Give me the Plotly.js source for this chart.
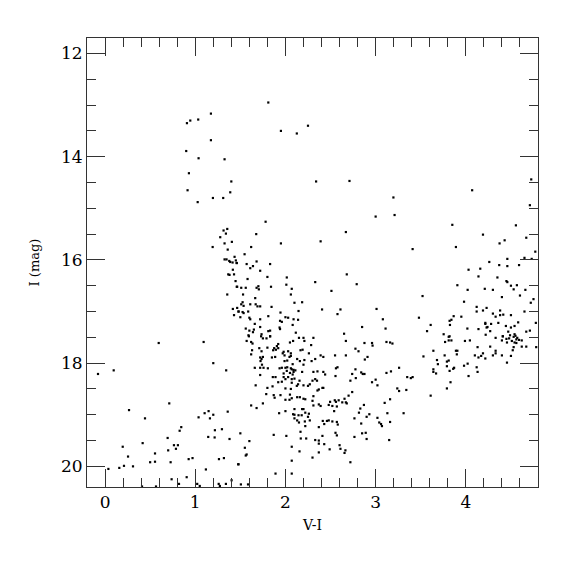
<!DOCTYPE html>
<html>
<head>
<meta charset="utf-8">
<script src="https://cdn.plot.ly/plotly-3.0.1.min.js"></script>
<style>html,body{margin:0;padding:0;background:#fff;}#chart{width:575px;height:575px;}</style>
</head>
<body>
<div id="chart"></div>
<script>
// Colour index V-I and magnitude I (mag)
const vi = [
1.174,0.945,0.908,1.033,1.174,0.90,1.037,1.325,0.93,1.40,
1.81,1.95,2.126,2.25,2.34,2.71,4.725,4.07,
0.915,1.388,1.027,1.196,1.31,1.355,1.314,1.34,1.277,1.406,1.325,1.193,1.36,1.436,1.325,1.347,1.377,1.388,1.414,1.45,1.46,1.417,1.366,1.38,1.43,1.447,1.465,1.355,1.417,1.465,1.48,1.43,
1.78,1.676,1.95,1.62,1.547,1.46,1.57,1.64,1.61,1.68,1.83,1.72,1.80,1.58,2.015,2.01,2.33,2.39,2.67,3.0,2.68,2.79,2.51,1.46,1.51,1.56,1.68,1.70,1.705,1.84,2.07,2.06,1.53,1.665,1.525,1.51,1.536,1.61,1.67,1.69,1.72,1.846,2.10,2.185,1.48,1.525,1.536,1.587,1.945,2.145,1.50,1.60,1.61,1.81,2.0,2.03,1.94,1.96,1.72,2.09,2.14,1.66,2.08,1.72,1.935,1.56,1.60,1.65,1.64,1.59,1.735,1.81,1.83,1.94,2.115,1.83,2.406,2.61,2.577,3.01,3.08,3.11,2.85,2.65,
3.197,3.21,4.71,3.85,4.555,4.19,4.67,4.43,4.374,3.41,3.89,4.77,4.46,4.65,4.73,4.26,4.37,4.46,4.59,4.16,4.03,4.14,4.35,4.45,4.46,4.50,4.566,4.53,4.66,3.906,4.02,4.21,4.30,3.52,4.40,4.60,4.75,3.98,4.72,4.12,4.23,4.12,4.19,4.38,4.65,3.48,3.865,3.95,4.30,4.33,4.38,4.415,4.50,3.82,3.84,3.61,3.824,4.216,4.216,4.28,4.36,4.444,4.50,4.54,4.58,4.776,4.017,4.14,4.23,4.24,3.57,3.754,3.82,4.22,4.27,4.41,4.47,4.49,4.54,4.55,4.67,4.71,
3.12,3.16,3.186,3.81,3.77,3.81,3.84,3.99,4.045,4.33,4.41,4.40,4.45,4.456,4.48,4.51,4.53,4.56,4.57,4.59,4.62,4.54,4.56,4.62,4.67,4.78,4.53,4.52,4.27,4.13,3.64,3.89,3.906,3.90,4.33,4.33,4.19,4.10,4.14,4.17,4.216,4.30,4.40,4.50,3.765,3.53,3.68,3.81,3.79,4.456,3.69,3.79,3.98,4.02,4.12,3.64,3.87,3.86,3.82,3.64,3.67,4.13,3.26,3.12,3.17,3.35,3.39,3.41,4.03,3.83,3.79,3.24,3.26,3.34,3.61,3.16,3.13,3.31,3.16,3.15,
1.595,1.57,1.62,1.635,1.73,1.75,1.79,1.83,1.92,2.05,2.085,2.15,2.20,2.21,2.31,2.285,2.67,2.876,2.96,2.966,1.905,1.92,1.875,1.864,1.894,1.80,1.71,1.63,1.735,1.62,1.72,1.735,1.724,1.75,1.85,1.886,1.97,1.98,2.03,2.06,2.06,2.045,1.99,2.167,2.19,2.26,2.39,2.42,2.55,2.67,2.776,2.81,2.91,2.88,1.99,2.02,2.13,2.16,2.21,2.29,2.33,2.08,2.20,1.66,1.72,1.74,1.757,1.805,1.935,1.96,2.0,2.02,2.015,2.06,2.05,2.07,2.09,2.11,2.09,2.08,1.98,2.185,2.31,2.355,2.42,2.44,2.56,2.577,2.776,2.84,2.857,2.876,2.555,2.74,2.78,2.72,3.0,2.96,3.02,1.72,1.86,1.89,1.98,2.0,2.03,2.07,2.10,1.92,1.96,2.07,2.156,2.30,2.33,2.35,2.20,2.25,2.27,1.67,1.80,1.857,2.0,2.06,2.14,2.126,2.355,2.37,2.41,2.42,1.787,1.87,1.88,1.945,2.05,2.07,2.0,2.045,2.13,2.16,2.20,2.22,2.31,2.74,2.70,2.655,2.67,2.63,2.59,2.56,2.547,2.495,2.48,2.52,2.57,2.54,2.68,2.39,2.37,2.31,2.30,2.20,2.185,2.22,2.26,2.18,2.10,2.085,2.145,2.0,1.93,1.62,1.68,1.75,2.83,2.87,2.815,2.765,2.84,2.90,2.93,3.02,3.10,3.04,3.06,3.07,2.85,2.89,2.90,2.765,2.72,2.655,2.61,2.60,2.665,2.414,2.46,2.48,2.52,2.57,2.58,2.43,2.37,2.555,2.57,2.49,2.43,2.37,2.41,2.33,2.37,2.37,2.30,2.23,2.17,2.167,2.22,2.215,2.27,2.25,2.13,2.10,2.15,2.10,2.07,2.156,2.01,2.07,2.07,1.89,1.87,1.50,1.60,1.55,1.57,1.56,1.48,1.506,1.585,
0.595,1.093,1.20,-0.078,0.096,1.343,0.712,0.266,0.443,1.104,1.148,1.20,1.163,1.037,1.36,0.845,0.827,1.218,1.296,0.694,1.144,1.215,1.38,0.417,0.196,0.764,0.808,0.786,0.70,0.554,0.255,0.50,0.554,0.727,0.927,0.97,1.263,1.318,1.118,1.476,0.037,0.158,0.21,0.31,0.738,0.905,1.022,1.273,1.403,0.565,0.41,0.82,1.05,1.26,1.34
];
const imag = [
13.165,13.30,13.35,13.28,13.68,13.89,14.03,14.05,14.32,14.48,
12.95,13.50,13.55,13.40,14.48,14.47,14.44,14.65,
14.65,14.69,14.88,14.80,14.80,15.40,15.43,15.49,15.56,15.65,15.68,15.75,15.80,15.94,15.99,15.99,16.02,16.04,16.05,16.01,16.06,16.19,16.28,16.29,16.28,16.41,16.52,16.67,16.95,16.93,17.0,17.07,
15.26,15.50,15.68,15.75,15.89,16.06,16.08,16.12,16.16,16.03,16.08,16.21,16.33,16.37,16.34,16.48,16.43,15.64,15.46,15.16,16.28,16.47,16.60,16.52,16.54,16.54,16.54,16.51,16.57,16.52,16.56,16.67,16.67,16.74,16.82,16.86,16.89,16.86,16.86,16.90,16.90,16.91,16.83,16.82,17.0,17.01,17.03,17.0,17.02,16.99,17.11,17.12,17.15,17.09,17.11,17.12,17.18,17.20,17.15,17.15,17.16,17.24,17.26,17.30,17.31,17.33,17.37,17.35,17.40,17.46,17.44,17.38,17.37,17.34,17.41,17.48,16.96,16.96,17.05,16.95,17.15,17.33,17.30,17.43,
14.79,15.13,14.94,15.32,15.33,15.51,15.57,15.62,15.68,15.79,15.75,15.84,15.98,15.96,15.98,16.04,16.10,16.12,16.10,16.17,16.19,16.32,16.34,16.41,16.43,16.50,16.49,16.57,16.58,16.49,16.58,16.56,16.58,16.70,16.72,16.69,16.76,16.81,16.83,16.91,16.93,17.0,16.98,16.98,17.0,17.12,17.09,17.10,17.04,17.10,17.07,17.06,17.07,17.18,17.16,17.26,17.26,17.22,17.24,17.24,17.22,17.28,17.31,17.28,17.21,17.22,17.33,17.34,17.31,17.30,17.38,17.44,17.48,17.45,17.38,17.48,17.39,17.46,17.44,17.47,17.39,17.37,
17.59,17.60,17.62,17.49,17.59,17.56,17.56,17.57,17.56,17.51,17.48,17.56,17.53,17.60,17.52,17.57,17.49,17.54,17.51,17.55,17.56,17.60,17.61,17.68,17.68,17.69,17.69,17.75,17.68,17.69,17.76,17.76,17.76,17.83,17.76,17.81,17.81,17.85,17.89,17.86,17.91,17.85,17.85,17.86,17.85,17.87,17.94,17.95,17.97,17.99,18.02,18.06,18.05,18.01,18.08,18.12,18.09,18.11,18.15,18.17,18.20,18.17,18.09,18.19,18.16,18.27,18.29,18.27,18.25,18.37,18.49,18.49,18.54,18.52,18.63,18.70,18.97,18.97,19.14,19.49,
17.48,17.57,17.59,17.62,17.48,17.52,17.52,17.48,17.63,17.60,17.57,17.51,17.51,17.57,17.51,17.65,17.57,17.61,17.61,17.66,17.67,17.71,17.71,17.75,17.74,17.70,17.71,17.75,17.77,17.83,17.89,17.92,17.96,17.88,17.89,17.88,17.81,17.78,17.77,17.81,17.86,17.88,17.85,17.75,17.74,17.81,17.85,17.88,17.85,17.85,17.72,17.77,17.88,17.93,17.96,17.95,17.92,17.96,17.94,17.96,17.92,18.02,18.03,18.09,18.09,18.03,18.09,18.10,18.10,18.09,18.09,18.08,18.15,18.10,18.19,18.12,18.13,18.14,18.17,18.22,18.20,18.17,18.17,18.16,18.17,18.22,18.10,18.08,18.12,18.18,18.21,18.21,18.25,18.21,18.29,18.34,18.32,18.37,18.43,18.23,18.27,18.27,18.27,18.31,18.27,18.31,18.30,18.37,18.36,18.38,18.34,18.34,18.31,18.34,18.43,18.44,18.41,18.43,18.48,18.45,18.49,18.50,18.41,18.44,18.53,18.51,18.48,18.48,18.60,18.62,18.67,18.62,18.61,18.68,18.71,18.71,18.66,18.66,18.69,18.70,18.64,18.56,18.63,18.69,18.76,18.76,18.72,18.75,18.72,18.75,18.81,18.83,18.84,18.93,18.78,18.83,18.80,18.82,18.73,18.89,18.89,18.96,18.98,19.01,19.0,18.99,19.01,18.93,18.97,18.82,18.87,18.78,18.88,18.81,18.96,19.07,19.17,19.04,18.99,19.06,18.77,19.15,19.18,19.22,19.36,19.35,19.47,19.43,19.92,19.74,19.66,19.59,19.69,19.12,19.12,19.11,19.13,19.14,19.19,19.18,19.24,19.35,19.40,19.67,19.57,19.50,19.41,19.49,19.56,19.73,19.83,19.46,19.46,19.33,19.22,19.13,19.11,19.04,19.11,19.07,19.15,18.89,19.62,19.71,19.41,19.89,20.14,20.14,19.39,19.36,19.51,19.64,19.77,19.79,19.96,20.35,20.35,
17.61,17.59,18.0,18.21,18.14,18.14,18.78,18.91,19.07,18.97,18.93,19.0,19.07,19.05,18.94,19.24,19.31,19.30,19.28,19.45,19.43,19.44,19.47,19.55,19.62,19.59,19.59,19.66,19.69,19.75,19.81,19.92,19.91,19.92,19.86,19.84,19.86,19.84,20.06,19.96,20.05,20.03,19.99,20.0,20.25,20.21,20.34,20.38,20.27,20.39,20.39,20.34,20.38,20.34,20.34
];
const xTickVals = [0,1,2,3,4];
const yTickVals = [12,14,16,18,20];

const n = Math.min(vi.length, imag.length);
const trace = {
  x: vi.slice(0,n), y: imag.slice(0,n),
  type: 'scatter', mode: 'markers',
  marker: {symbol: 'square', size: 2.2, color: '#000', line: {width: 0}},
  hoverinfo: 'skip'
};
const serif = 'DejaVu Serif, Liberation Serif, serif';
const axCommon = {
  showline: true, linecolor: '#333', linewidth: 1, mirror: 'allticks',
  ticks: 'inside', tickcolor: '#333', tickwidth: 1,
  showgrid: false, zeroline: false,
  tickfont: {family: serif, size: 17, color: '#000'}
};
const layout = {
  width: 575, height: 575,
  margin: {l: 87, r: 37, t: 38, b: 88},
  paper_bgcolor: '#fff', plot_bgcolor: '#fff',
  showlegend: false,
  xaxis: Object.assign({}, axCommon, {
    range: [-0.2, 4.8], tickvals: xTickVals, ticklen: 18,
    minor: {dtick: 0.2, tick0: 0, ticks: 'inside', ticklen: 9, tickcolor: '#333', tickwidth: 1, showgrid: false},
    title: {text: 'V-I', font: {family: serif, size: 14, color: '#000'}, standoff: 8}
  }),
  yaxis: Object.assign({}, axCommon, {
    range: [20.4, 11.7], tickvals: yTickVals, ticklen: 18,
    minor: {dtick: 0.5, tick0: 0, ticks: 'inside', ticklen: 9, tickcolor: '#333', tickwidth: 1, showgrid: false},
    title: {text: 'I (mag)', font: {family: serif, size: 13, color: '#000'}, standoff: 18}
  })
};
Plotly.newPlot('chart', [trace], layout, {staticPlot: true, displayModeBar: false});
</script>
</body>
</html>
